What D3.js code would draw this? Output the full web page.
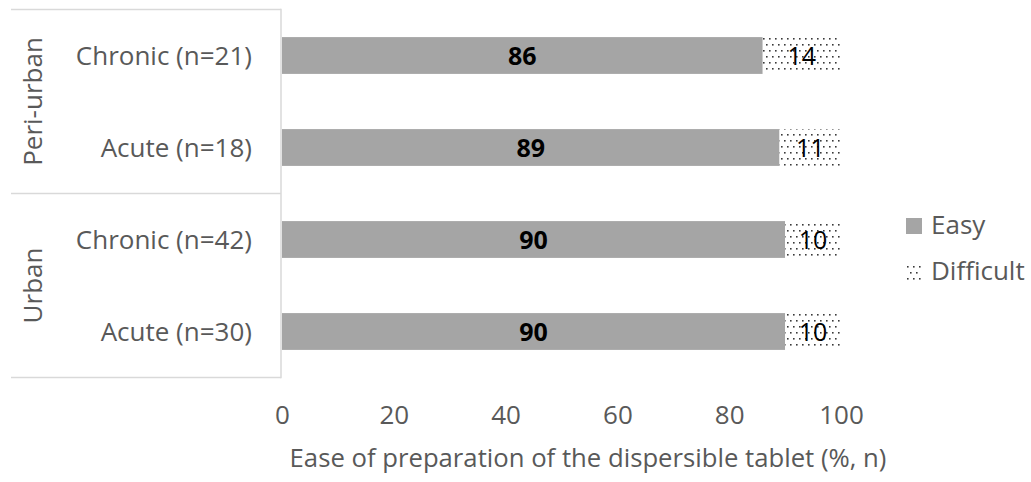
<!DOCTYPE html>
<html>
<head>
<meta charset="utf-8">
<script src="https://cdn.jsdelivr.net/npm/d3@7"></script>
<style>
  html, body { margin: 0; padding: 0; background: #fff; }
  svg { display: block; font-family: "Open Sans", sans-serif; }
</style>
</head>
<body>
<svg id="chart" width="1031" height="482"></svg>
<script>
// ---- data ----
const categories = ["Chronic (n=21)", "Acute (n=18)", "Chronic (n=42)", "Acute (n=30)"];
const groups = ["Peri-urban", "Peri-urban", "Urban", "Urban"];
const groupNames = ["Peri-urban", "Urban"];
const easy = [86, 89, 90, 90];
const difficult = [14, 11, 10, 10];
const seriesNames = ["Easy", "Difficult"];
const xTicks = [0, 20, 40, 60, 80, 100];
const xTitle = "Ease of preparation of the dispersible tablet (%, n)";

// ---- layout ----
const svg = d3.select("#chart");
const textCol = "#595959";
const lineCol = "#d9d9d9";
const fs = 26;

const x = d3.scaleLinear().domain([0, 100]).range([282, 841]);
const ids = categories.map((c, i) => i);
const y = d3.scaleBand().domain(ids).range([9.5, 377.5]).paddingInner(0.6).paddingOuter(0.3);

// pattern for "Difficult"
const defs = svg.append("defs");
const pat = defs.append("pattern").attr("id", "dots")
  .attr("patternUnits", "userSpaceOnUse").attr("width", 6).attr("height", 12)
  .attr("x", 0).attr("y", 1);
pat.append("rect").attr("width", 6).attr("height", 12).attr("fill", "#fff");
pat.append("rect").attr("x", 1).attr("y", 1).attr("width", 1.6).attr("height", 1.6).attr("fill", "#3a3a3a");
pat.append("rect").attr("x", 4).attr("y", 7).attr("width", 1.6).attr("height", 1.6).attr("fill", "#3a3a3a");

// table lines on the left
const gy = svg.append("g");
const [r0, r1] = y.range();
const mid = (y(1) + y.bandwidth() + y(2)) / 2;
[r0, mid, r1].forEach(v => {
  gy.append("line").attr("x1", 11).attr("x2", 281).attr("y1", v).attr("y2", v)
    .attr("stroke", lineCol).attr("stroke-width", 1.5);
});
gy.append("line").attr("x1", 281).attr("x2", 281).attr("y1", r0 - 0.75).attr("y2", r1 + 0.75)
  .attr("stroke", lineCol).attr("stroke-width", 1.5);

// category labels
gy.selectAll("text.cat").data(ids).join("text").attr("class", "cat")
  .attr("x", 252).attr("y", i => y(i) + y.bandwidth() / 2).attr("dy", "0.36em")
  .attr("text-anchor", "end").attr("fill", textCol).attr("font-size", fs)
  .text(i => categories[i]);

// group labels (rotated)
const groupCenters = [(r0 + mid) / 2, (mid + r1) / 2];
gy.selectAll("text.grp").data(groupNames).join("text").attr("class", "grp")
  .attr("transform", (g, k) => `translate(42,${groupCenters[k]}) rotate(-90)`)
  .attr("text-anchor", "middle").attr("fill", textCol).attr("font-size", fs)
  .text(g => g);

// bars
const gb = svg.append("g");
gb.selectAll("rect.easy").data(ids).join("rect").attr("class", "easy")
  .attr("x", x(0)).attr("y", i => y(i))
  .attr("width", i => x(easy[i]) - x(0)).attr("height", y.bandwidth())
  .attr("fill", "#a5a5a5");
gb.selectAll("rect.diff").data(ids).join("rect").attr("class", "diff")
  .attr("x", i => x(easy[i])).attr("y", i => y(i))
  .attr("width", i => x(easy[i] + difficult[i]) - x(easy[i])).attr("height", y.bandwidth())
  .attr("fill", "url(#dots)");

// data labels
gb.selectAll("text.le").data(ids).join("text").attr("class", "le")
  .attr("x", i => x(easy[i] / 2)).attr("y", i => y(i) + y.bandwidth() / 2).attr("dy", "0.36em")
  .attr("text-anchor", "middle").attr("font-size", 25).attr("font-weight", "bold").attr("fill", "#000")
  .text(i => easy[i]);
gb.selectAll("text.ld").data(ids).join("text").attr("class", "ld")
  .attr("x", i => x(easy[i] + difficult[i] / 2)).attr("y", i => y(i) + y.bandwidth() / 2).attr("dy", "0.36em")
  .attr("text-anchor", "middle").attr("font-size", 25).attr("fill", "#000")
  .text(i => difficult[i]);

// x axis
const gx = svg.append("g").attr("transform", "translate(0,400)")
  .call(d3.axisBottom(x).tickValues(xTicks).tickSize(0).tickFormat(d3.format("d")));
gx.select(".domain").remove();
gx.selectAll("text").attr("y", 24).attr("dy", null)
  .attr("fill", textCol).attr("font-size", fs).attr("font-family", "Open Sans, sans-serif");

svg.append("text").attr("x", 588).attr("y", 467).attr("text-anchor", "middle")
  .attr("fill", textCol).attr("font-size", 25.7).text(xTitle);

// legend
const lg = svg.append("g");
const legY = [234, 280];
const fills = ["#a5a5a5", "url(#dots)"];
seriesNames.forEach((s, k) => {
  lg.append("rect").attr("x", 906).attr("y", legY[k] - 16).attr("width", 16).attr("height", 16).attr("fill", fills[k]);
  lg.append("text").attr("x", 931).attr("y", legY[k]).attr("fill", textCol).attr("font-size", fs).text(s);
});
</script>
</body>
</html>
